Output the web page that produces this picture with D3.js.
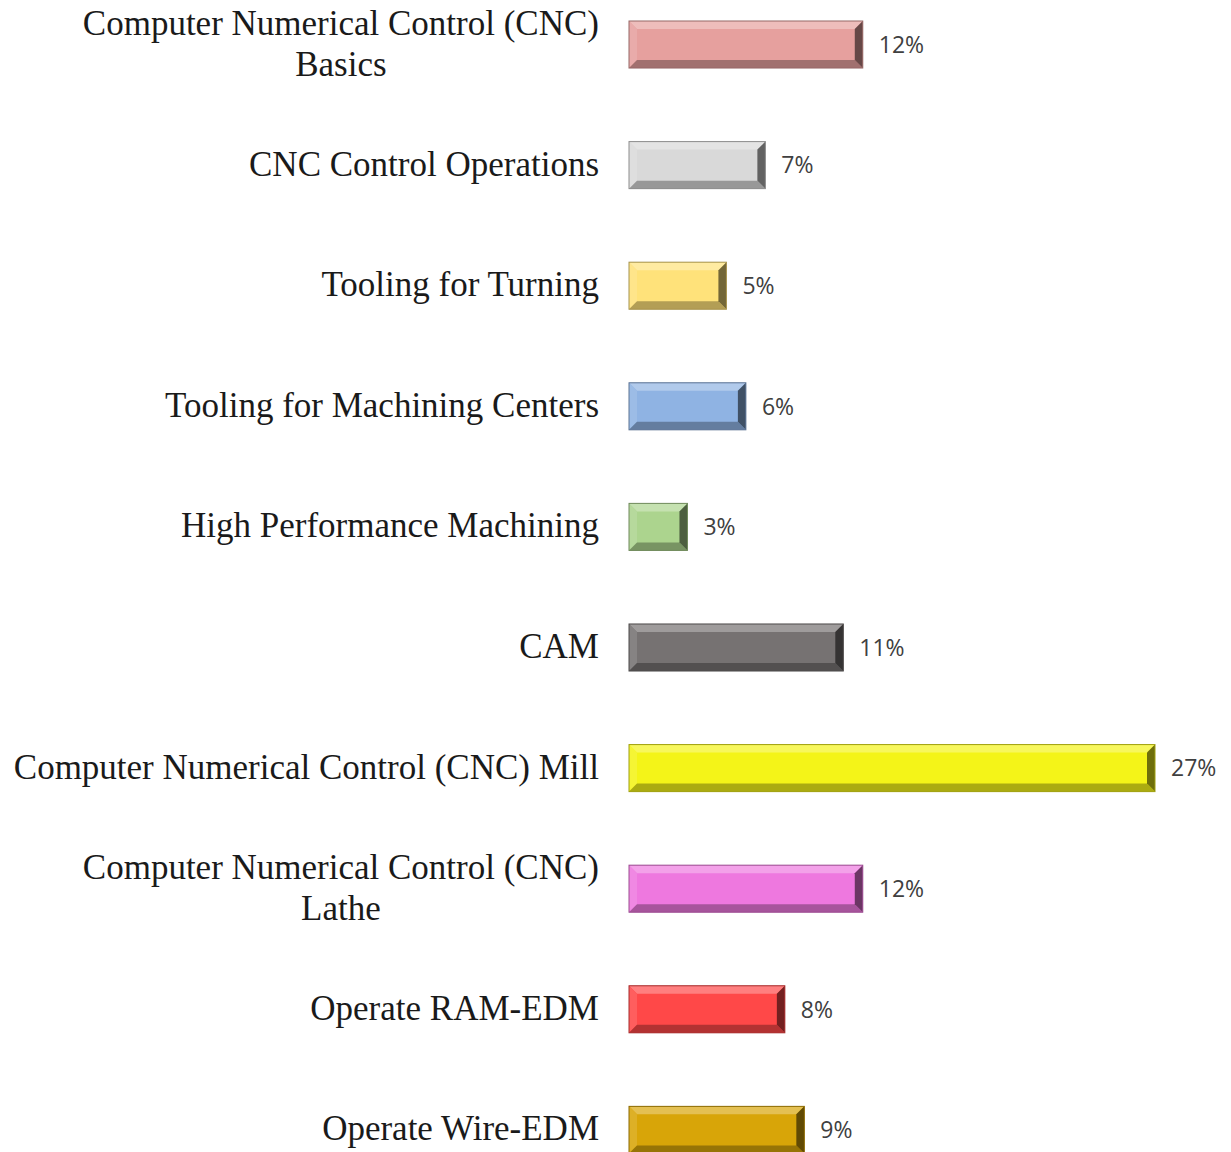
<!DOCTYPE html>
<html>
<head>
<meta charset="utf-8">
<script src="https://cdn.jsdelivr.net/npm/d3@7"></script>
<style>
  body { margin: 0; background: #fff; }
</style>
</head>
<body>
<div id="chart"></div>
<script>
// 数据
var categories = [
    ["Computer Numerical Control (CNC)", "Basics"],
    ["CNC Control Operations"],
    ["Tooling for Turning"],
    ["Tooling for Machining Centers"],
    ["High Performance Machining"],
    ["CAM"],
    ["Computer Numerical Control (CNC) Mill"],
    ["Computer Numerical Control (CNC)", "Lathe"],
    ["Operate RAM-EDM"],
    ["Operate Wire-EDM"]
];
var values = [12, 7, 5, 6, 3, 11, 27, 12, 8, 9];
var colors = ["#e6a09e", "#d9d9d9", "#ffe27a", "#8fb3e3", "#acd48e",
              "#767272", "#f4f418", "#ee78df", "#ff4848", "#d8a508"];

var width = 1231, height = 1152;
var margins = { left: 629, right: 76, top: 21, bottom: -1.4 };

var svg = d3.select("#chart").append("svg")
    .attr("width", width)
    .attr("height", height);

var x = d3.scaleLinear().domain([0, 27]).range([margins.left, width - margins.right]);
var y = d3.scaleBand()
    .domain(d3.range(values.length))
    .range([margins.top, height - margins.bottom])
    .paddingInner(0.61)
    .paddingOuter(0);

var bev = 8;
var rows = svg.selectAll(".row")
    .data(values.map(function (v, i) { return { v: v, i: i, c: colors[i], label: categories[i] }; }))
    .join("g")
    .attr("class", "row");

// 柱子主体
rows.append("rect")
    .attr("x", x(0))
    .attr("y", d => y(d.i))
    .attr("width", d => x(d.v) - x(0))
    .attr("height", y.bandwidth())
    .attr("fill", d => d.c);

function poly(pts) { return "M" + pts.map(p => p.join(",")).join("L") + "Z"; }

// 斜面效果
var sides = [
    { k: "top", f: c => d3.interpolateRgb(c, "#fff")(0.3) },
    { k: "left", f: c => d3.interpolateRgb(c, "#fff")(0.12) },
    { k: "bottom", f: c => d3.interpolateRgb(c, "#000")(0.3) },
    { k: "right", f: c => d3.interpolateRgb(c, "#000")(0.55) }
];
sides.forEach(function (s) {
    rows.append("path")
        .attr("d", function (d) {
            var x0 = x(0), x1 = x(d.v), y0 = y(d.i), y1 = y0 + y.bandwidth();
            if (s.k === "top") return poly([[x0, y0], [x1, y0], [x1 - bev, y0 + bev], [x0 + bev, y0 + bev]]);
            if (s.k === "bottom") return poly([[x0, y1], [x1, y1], [x1 - bev, y1 - bev], [x0 + bev, y1 - bev]]);
            if (s.k === "left") return poly([[x0, y0], [x0 + bev, y0 + bev], [x0 + bev, y1 - bev], [x0, y1]]);
            return poly([[x1, y0], [x1 - bev, y0 + bev], [x1 - bev, y1 - bev], [x1, y1]]);
        })
        .attr("fill", d => s.f(d.c));
});

rows.append("rect")
    .attr("x", x(0))
    .attr("y", d => y(d.i))
    .attr("width", d => x(d.v) - x(0))
    .attr("height", y.bandwidth())
    .attr("fill", "none")
    .attr("stroke", d => d3.interpolateRgb(d.c, "#000")(0.35))
    .attr("stroke-width", 1);

// 数值标签
rows.append("text")
    .attr("x", d => x(d.v) + 16)
    .attr("y", d => y(d.i) + y.bandwidth() / 2)
    .attr("dy", "0.36em")
    .attr("font-family", "'Open Sans', sans-serif")
    .attr("font-size", 23)
    .attr("fill", "#404040")
    .text(d => d.v + "%");

// 分类标签
var lineH = 41;
var labels = rows.append("text")
    .attr("font-family", "'Book Antiqua', Palatino, 'Liberation Serif', serif")
    .attr("font-size", 35)
    .attr("fill", "#1a1a1a");

labels.each(function (d) {
    var t = d3.select(this);
    var n = d.label.length;
    var cy = y(d.i) + y.bandwidth() / 2;
    d.label.forEach(function (line, j) {
        t.append("tspan")
            .attr("y", cy + (j - (n - 1) / 2) * lineH)
            .attr("dy", "0.3em")
            .text(line);
    });
});

// 多行标签：整体右对齐，行内居中
labels.each(function (d) {
    var t = d3.select(this);
    var spans = t.selectAll("tspan");
    var w = d3.max(spans.nodes(), n => n.getComputedTextLength());
    var right = 599;
    if (d.label.length === 1) {
        spans.attr("x", right).attr("text-anchor", "end");
    } else {
        spans.attr("x", right - w / 2).attr("text-anchor", "middle");
    }
});
</script>
</body>
</html>
